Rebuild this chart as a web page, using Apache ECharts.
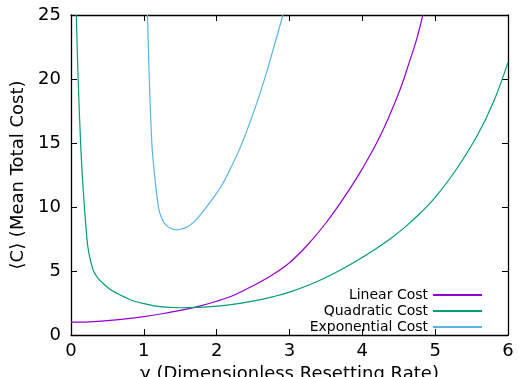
<!DOCTYPE html>
<html>
<head>
<meta charset="utf-8">
<script src="https://cdn.jsdelivr.net/npm/echarts@6/dist/echarts.min.js"></script>
<style>
  html, body { margin: 0; padding: 0; background: #fff; }
  #chart { width: 519px; height: 377px; }
</style>
</head>
<body>
<div id="chart"></div>
<script>
// values: [gamma, mean total cost]
var linearCost = [
  [0, 1], [0.25, 1.03], [0.5, 1.12], [0.75, 1.26], [1.0, 1.44], [1.25, 1.66],
  [1.5, 1.92], [1.75, 2.24], [2.0, 2.64], [2.25, 3.15], [2.5, 3.85], [2.75, 4.65],
  [3.0, 5.65], [3.25, 7.05], [3.5, 8.75], [3.75, 10.75], [4.0, 13.0], [4.25, 15.6],
  [4.5, 18.9], [4.65, 21.4], [4.75, 23.2], [4.83, 25]
];
var quadraticCost = [
  [0.073, 25], [0.098, 20], [0.132, 15], [0.155, 12.5], [0.184, 10], [0.212, 8],
  [0.238, 6.64], [0.304, 5.08], [0.37, 4.45], [0.44, 4.04], [0.53, 3.6], [0.63, 3.26],
  [0.75, 2.92], [0.85, 2.68], [1.0, 2.45], [1.22, 2.21], [1.5, 2.13], [1.77, 2.16],
  [2.05, 2.27], [2.32, 2.47], [2.55, 2.7], [2.78, 3.0], [3.0, 3.35], [3.24, 3.85],
  [3.47, 4.42], [3.7, 5.08], [3.93, 5.82], [4.16, 6.64], [4.38, 7.5], [4.59, 8.45],
  [4.8, 9.55], [5.0, 10.75], [5.28, 12.85], [5.58, 15.6], [5.8, 18.2], [6.0, 21.3]
];
var exponentialCost = [
  [1.05, 25], [1.075, 20], [1.11, 15], [1.14, 12.9], [1.2, 10], [1.24, 9.2],
  [1.3, 8.6], [1.38, 8.3], [1.45, 8.22], [1.52, 8.28], [1.6, 8.45], [1.68, 8.8],
  [1.77, 9.35], [1.9, 10.3], [2.05, 11.5], [2.18, 12.9], [2.32, 14.6], [2.45, 16.5],
  [2.58, 18.6], [2.7, 20.8], [2.8, 22.8], [2.91, 25]
];
var seriesNames = ["Linear Cost", "Quadratic Cost", "Exponential Cost"];
var xTicks = [0, 6, 1];   // min, max, interval
var yTicks = [0, 25, 5];

var chart = echarts.init(document.getElementById("chart"));
var font = "DejaVu Sans";

function xAx(pos, labels) {
  return {
    type: "value", position: pos,
    min: xTicks[0], max: xTicks[1], interval: xTicks[2],
    name: labels ? "γ (Dimensionless Resetting Rate)" : "",
    nameLocation: "middle", nameGap: 27,
    nameTextStyle: { fontFamily: font, fontSize: 18, color: "#000" },
    axisLine: { show: true, onZero: false, lineStyle: { color: "#000", width: 1.3 } },
    axisTick: { show: true, inside: true, length: 6, lineStyle: { color: "#000" } },
    axisLabel: { show: labels, margin: 7, fontFamily: font, fontSize: 18, color: "#000" },
    splitLine: { show: false }
  };
}
function yAx(pos, labels) {
  return {
    type: "value", position: pos,
    min: yTicks[0], max: yTicks[1], interval: yTicks[2],
    name: labels ? "⟨C⟩ (Mean Total Cost)" : "",
    nameLocation: "middle", nameGap: 40,
    nameTextStyle: { fontFamily: font, fontSize: 18, color: "#000" },
    axisLine: { show: true, onZero: false, lineStyle: { color: "#000", width: 1.3 } },
    axisTick: { show: true, inside: true, length: 6, lineStyle: { color: "#000" } },
    axisLabel: { show: labels, margin: 10, fontFamily: font, fontSize: 18, color: "#000" },
    splitLine: { show: false }
  };
}

function line(name, data, color) {
  return {
    name: name, type: "line", data: data,
    showSymbol: false, symbol: "none",
    smooth: 0.4,
    clip: true,
    lineStyle: { color: color, width: 1.2 },
    itemStyle: { color: color }
  };
}

var option = {
  backgroundColor: "#fff",
  animation: false,
  grid: { left: 71, right: 11, top: 15, bottom: 42, outerBoundsMode: "none" },
  legend: {
    data: seriesNames,
    orient: "vertical",
    align: "right",
    right: 31,
    top: 282,
    itemWidth: 49,
    itemHeight: 16,
    itemGap: 0,
    itemStyle: { opacity: 0, color: "transparent", borderWidth: 0 },
    textStyle: { fontFamily: font, fontSize: 14, color: "#000", lineHeight: 16 }
  },
  xAxis: [xAx("bottom", true), xAx("top", false)],
  yAxis: [yAx("left", true), yAx("right", false)],
  series: [
    line(seriesNames[0], linearCost, "#9400d3"),
    line(seriesNames[1], quadraticCost, "#009e73"),
    line(seriesNames[2], exponentialCost, "#56b4e9")
  ]
};
chart.setOption(option);
</script>
</body>
</html>
